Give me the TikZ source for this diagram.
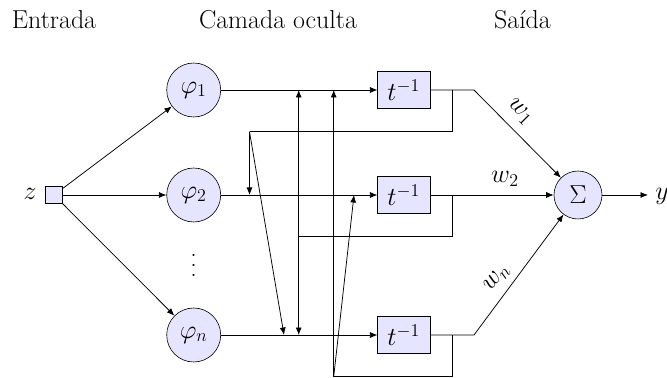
\documentclass[tikz,border=0pt]{standalone}
\usetikzlibrary{arrows.meta}
\definecolor{nodefill}{RGB}{229,229,255}
\tikzset{
  unitbox/.style={draw,fill=nodefill,circle,inner sep=0pt,minimum size=36pt,font=\LARGE},
  sumbox/.style={draw,fill=nodefill,circle,inner sep=0pt,minimum size=32pt,font=\LARGE},
  delaybox/.style={draw,fill=nodefill,rectangle,inner sep=0pt,minimum width=34.7pt,minimum height=24.4pt,font=\LARGE},
  inbox/.style={draw,fill=nodefill,rectangle,inner sep=0pt,minimum size=11.3pt},
  title/.style={font=\LARGE,anchor=base,inner sep=0pt},
  mathlabel/.style={font=\LARGE,inner sep=0pt},
  conn/.style={line width=0.5pt},
  arr/.style={line width=0.5pt,-{Latex[length=5pt,width=4pt]}}
}
\begin{document}
\begin{tikzpicture}[x=0.6667pt,y=-0.6667pt]
\useasboundingbox (0,0) rectangle (667,378);
\node[title] (t1) at (54,28.5) {Entrada};
\node[title] (t2) at (278,28.5) {Camada oculta};
\node[title] (t3) at (522.5,28.5) {Saída};
\node[inbox] (z) at (54,195) {};
\node[mathlabel] (zl) at (30,194) {$z$};
\node[unitbox] (p1) at (193.7,90) {$\varphi_1$};
\node[unitbox] (p2) at (193.7,195) {$\varphi_2$};
\node[unitbox] (pn) at (193.7,335) {$\varphi_n$};
\node[mathlabel] (dots) at (193.7,265) {\vbox{\baselineskip=6.7pt\lineskiplimit=0pt\hbox{.}\hbox{.}\hbox{.}}};
\node[delaybox] (d1) at (403.8,90) {$t^{-1}$};
\node[delaybox] (d2) at (403.8,195) {$t^{-1}$};
\node[delaybox] (dn) at (403.8,335) {$t^{-1}$};
\node[sumbox] (s) at (578,195) {$\Sigma$};
\node[mathlabel] (y) at (662,196) {$y$};
\node[mathlabel,rotate=-45] (w1) at (520,112) {$w_1$};
\node[mathlabel] (w2) at (505,179) {$w_2$};
\node[mathlabel,rotate=50] (wn) at (497,278) {$w_n$};
% junctions
\coordinate (c1) at (474,90);
\coordinate (cn) at (474,335);
\coordinate (j1) at (452.7,90);
\coordinate (j2) at (452.7,195);
\coordinate (j3) at (452.7,335);
\coordinate (b1) at (452.7,131.7);
\coordinate (b2) at (452.7,236.7);
\coordinate (b3) at (452.7,376.7);
\coordinate (a1) at (249.5,131.7);
\coordinate (a2) at (298.7,236.7);
\coordinate (a3) at (333.7,376.7);
\coordinate (e12) at (249.5,195);
\coordinate (e1n) at (284,335);
\coordinate (e21) at (298.7,90);
\coordinate (e2n) at (298.7,335);
\coordinate (e31) at (333.7,90);
\coordinate (e32) at (354,195);
\coordinate (o) at (648,195);
% input
\draw[arr] (z) -- (p1);
\draw[arr] (z) -- (p2);
\draw[arr] (z) -- (pn);
% hidden to delay
\draw[arr] (p1) -- (d1);
\draw[arr] (p2) -- (d2);
\draw[arr] (pn) -- (dn);
% output
\draw[arr] (d1) -- (c1) -- (s);
\draw[arr] (d2) -- (s);
\draw[arr] (dn) -- (cn) -- (s);
\draw[arr] (s) -- (o);
% feedback
\draw[conn] (j1) -- (b1) -- (a1);
\draw[arr] (a1) -- (e12);
\draw[arr] (a1) -- (e1n);
\draw[conn] (j2) -- (b2) -- (a2);
\draw[arr] (a2) -- (e21);
\draw[arr] (a2) -- (e2n);
\draw[conn] (j3) -- (b3) -- (a3);
\draw[arr] (a3) -- (e31);
\draw[arr] (a3) -- (e32);
\end{tikzpicture}
\end{document}
